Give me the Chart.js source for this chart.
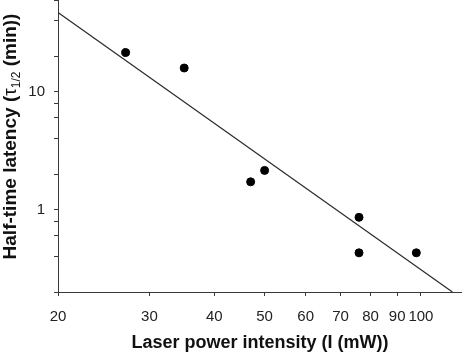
<!DOCTYPE html>
<html>
<head>
  <title>Half-time latency vs laser power</title>
  <script src="https://cdn.jsdelivr.net/npm/chart.js@4.4.0/dist/chart.umd.min.js"></script>
  <style>
    body { margin: 0; background: #fff; }
  </style>
</head>
<body>
<canvas id="myChart" width="462" height="352"></canvas>
<script>
// measured points
const laserPower = [27, 35, 47, 50, 76, 76, 98];
const halfTime = [21.5, 15.9, 1.72, 2.15, 0.86, 0.43, 0.43];
// power-law fit, two end points
const fitPower = [20, 115];
const fitTime = [47, 0.2];
// axis ticks
const xTicks = [20, 30, 40, 50, 60, 70, 80, 90, 100];
const yTicks = [0.2, 0.4, 0.6, 0.8, 1, 2, 4, 6, 8, 10, 20, 40, 60];
const yLabelled = [1, 10];

const FONT = '"Liberation Sans", Arial, sans-serif';
const axisColor = '#3a3a3a';

// y title drawn by hand so the 1/2 can be a subscript
const yTitle = {
  id: 'yTitle',
  afterDraw(chart) {
    const ctx = chart.ctx;
    const parts = [
      { t: 'Half-time latency (', f: 'bold 19px ' + FONT, dy: 0 },
      { t: '\u03c4', f: '19px ' + FONT, dy: 0 },
      { t: '1/2', f: '12px ' + FONT, dy: 4 },
      { t: ' (min))', f: 'bold 19px ' + FONT, dy: 0 }
    ];
    let total = 0;
    parts.forEach(p => { ctx.font = p.f; p.w = ctx.measureText(p.t).width; total += p.w; });
    ctx.save();
    ctx.translate(15.5, 136.5);
    ctx.rotate(-Math.PI / 2);
    ctx.fillStyle = '#111';
    ctx.textBaseline = 'alphabetic';
    ctx.textAlign = 'left';
    let x = -total / 2;
    parts.forEach(p => {
      ctx.font = p.f;
      ctx.fillText(p.t, x, p.dy);
      x += p.w;
    });
    ctx.restore();
  }
};

const ctx = document.getElementById('myChart').getContext('2d');
const myChart = new Chart(ctx, {
  type: 'scatter',
  data: {
    datasets: [{
      label: 'fit',
      data: fitPower.map((v, i) => ({ x: v, y: fitTime[i] })),
      showLine: true,
      borderColor: '#2a2a2a',
      borderWidth: 1.2,
      pointRadius: 0
    }, {
      label: 'measured',
      data: laserPower.map((v, i) => ({ x: v, y: halfTime[i] })),
      backgroundColor: '#000',
      borderColor: '#000',
      pointRadius: 4,
      pointHoverRadius: 4
    }]
  },
  options: {
    responsive: false,
    animation: false,
    devicePixelRatio: 1,
    layout: { padding: 0, autoPadding: false },
    plugins: {
      legend: { display: false },
      tooltip: { enabled: false }
    },
    scales: {
      x: {
        type: 'logarithmic',
        min: 20,
        max: 120,
        afterBuildTicks: s => { s.ticks = xTicks.map(v => ({ value: v })); },
        afterFit: s => { s.height = 60; s.paddingLeft = 0; s.paddingRight = 0; },
        ticks: {
          autoSkip: false,
          maxRotation: 0,
          minRotation: 0,
          padding: 12,
          color: '#222',
          font: { family: FONT, size: 15 },
          callback: v => String(v)
        },
        grid: { drawOnChartArea: false, drawTicks: true, tickLength: 4, color: axisColor },
        border: { display: true, color: axisColor, width: 1 },
        title: {
          display: true,
          text: 'Laser power intensity (I (mW))',
          color: '#111',
          font: { family: FONT, size: 18, weight: 'bold', lineHeight: 1 },
          padding: { top: 0, bottom: 0 }
        }
      },
      y: {
        type: 'logarithmic',
        min: 0.2,
        max: 60,
        afterBuildTicks: s => { s.ticks = yTicks.map(v => ({ value: v })); },
        afterFit: s => { s.width = 58; s.paddingTop = 0; s.paddingBottom = 0; },
        ticks: {
          autoSkip: false,
          padding: 9,
          color: '#222',
          font: { family: FONT, size: 15 },
          callback: v => yLabelled.includes(v) ? String(v) : ''
        },
        grid: { drawOnChartArea: false, drawTicks: true, tickLength: 4, color: axisColor },
        border: { display: true, color: axisColor, width: 1 },
        title: { display: false }
      }
    }
  },
  plugins: [yTitle]
});
</script>
</body>
</html>
